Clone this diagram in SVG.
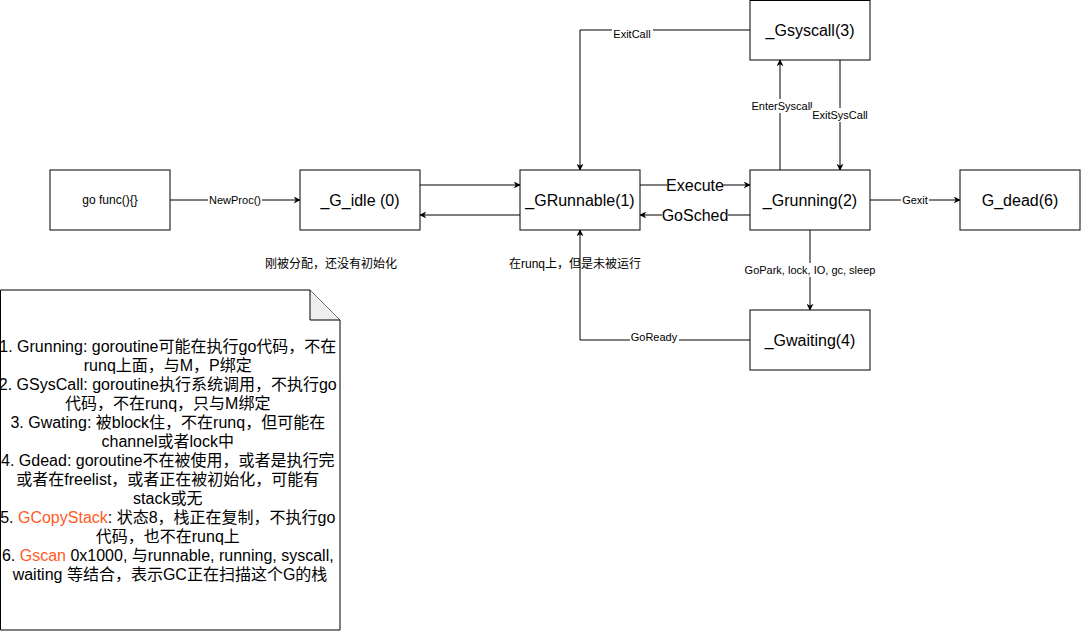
<svg xmlns="http://www.w3.org/2000/svg" width="1081" height="631" viewBox="0 0 1081 631">
<defs>
<marker id="arr" viewBox="0 0 10 10" refX="9" refY="5" markerWidth="7" markerHeight="7" markerUnits="userSpaceOnUse" orient="auto">
<path d="M0,0 L10,5 L0,10 L3,5 Z" fill="#000"/>
</marker>
<style>
.box{fill:#fff;stroke:#000;stroke-width:1}
.edge{fill:none;stroke:#000;stroke-width:1;marker-end:url(#arr)}
.t{font-family:"Liberation Sans",Arial,"Noto Sans CJK SC",sans-serif;fill:#000;text-anchor:middle;dominant-baseline:central}
.big{font-size:16px}
.sm{font-size:11px}
.md{font-size:12px}
.lbl{fill:#fff}
.o{fill:#FF5B1F}
</style>
</defs>
<rect width="1081" height="631" fill="#fff"/>
<g id="connectors">
<path class="edge" d="M170,200 L300,200"/>
<rect class="lbl" x="208" y="193" width="54" height="14"/>
<text class="t sm" x="235" y="200">NewProc()</text>
<path class="edge" d="M420,185 L520,185"/>
<path class="edge" d="M520,215 L420,215"/>
<path class="edge" d="M640,185 L750,185"/>
<rect class="lbl" x="667" y="176" width="56" height="18"/>
<text class="t big" x="695" y="185">Execute</text>
<path class="edge" d="M750,215 L640,215"/>
<rect class="lbl" x="662" y="206" width="66" height="18"/>
<text class="t big" x="695" y="215">GoSched</text>
<path class="edge" d="M870,200 L960,200"/>
<rect class="lbl" x="901" y="193" width="28" height="14"/>
<text class="t sm" x="915" y="200">Gexit</text>
<path class="edge" d="M780,170 L780,60"/>
<rect class="lbl" x="751" y="99" width="62" height="14"/>
<text class="t sm" x="782" y="106">EnterSyscall</text>
<path class="edge" d="M840,60 L840,170"/>
<rect class="lbl" x="811" y="108" width="58" height="14"/>
<text class="t sm" x="840" y="115">ExitSysCall</text>
<path class="edge" d="M750,30 L580,30 L580,170"/>
<rect class="lbl" x="612" y="27" width="41" height="14"/>
<text class="t sm" x="632" y="34">ExitCall</text>
<path class="edge" d="M810,230 L810,310"/>
<rect class="lbl" x="744" y="263" width="133" height="14"/>
<text class="t sm" x="810" y="270">GoPark, lock, IO, gc, sleep</text>
<path class="edge" d="M750,340 L580,340 L580,230"/>
<rect class="lbl" x="630" y="330" width="49" height="14"/>
<text class="t sm" x="654" y="337">GoReady</text>
</g>
<g id="gofunc"><rect class="box" x="50" y="170" width="120" height="60"/><text class="t md" x="110" y="200">go func(){}</text></g>
<g id="gidle"><rect class="box" x="300" y="170" width="120" height="60"/><text class="t big" x="360" y="200">_G_idle (0)</text></g>
<g id="grunnable"><rect class="box" x="520" y="170" width="120" height="60"/><text class="t big" x="580" y="200">_GRunnable(1)</text></g>
<g id="grunning"><rect class="box" x="750" y="170" width="120" height="60"/><text class="t big" x="810" y="200">_Grunning(2)</text></g>
<g id="gdead"><rect class="box" x="960" y="170" width="120" height="60"/><text class="t big" x="1020" y="200">G_dead(6)</text></g>
<g id="gsyscall"><rect class="box" x="750" y="0.5" width="120" height="59.5"/><text class="t big" x="810" y="30">_Gsyscall(3)</text></g>
<g id="gwaiting"><rect class="box" x="750" y="310" width="120" height="60"/><text class="t big" x="810" y="340">_Gwaiting(4)</text></g>
<g id="label-idle"><text class="t md" x="331" y="264">刚被分配，还没有初始化</text></g>
<g id="label-runnable"><text class="t md" x="575" y="264">在runq上，但是未被运行</text></g>
<g id="note">
<path class="box" d="M0.5,290 L310,290 L340,320 L340,630 L0.5,630 Z"/>
<path d="M310,290 L310,320 L340,320" fill="#eee" stroke="#000"/>
<text class="t big" x="170">
<tspan x="170" y="346">1. Grunning: goroutine可能在执行go代码，不在</tspan>
<tspan x="170" y="365">runq上面，与M，P绑定</tspan>
<tspan x="170" y="384">2. GSysCall: goroutine执行系统调用，不执行go</tspan>
<tspan x="170" y="403">代码，不在runq，只与M绑定</tspan>
<tspan x="170" y="422">3. Gwating: 被block住，不在runq，但可能在</tspan>
<tspan x="170" y="441">channel或者lock中</tspan>
<tspan x="170" y="460">4. Gdead: goroutine不在被使用，或者是执行完</tspan>
<tspan x="170" y="479">或者在freelist，或者正在被初始化，可能有</tspan>
<tspan x="170" y="498">stack或无</tspan>
<tspan x="170" y="517">5. <tspan class="o">GCopyStack</tspan>: 状态8，栈正在复制，不执行go</tspan>
<tspan x="170" y="536">代码，也不在runq上</tspan>
<tspan x="170" y="555">6. <tspan class="o">Gscan</tspan> 0x1000, 与runnable, running, syscall,</tspan>
<tspan x="170" y="574">waiting 等结合，表示GC正在扫描这个G的栈</tspan>
</text>
</g>
</svg>
